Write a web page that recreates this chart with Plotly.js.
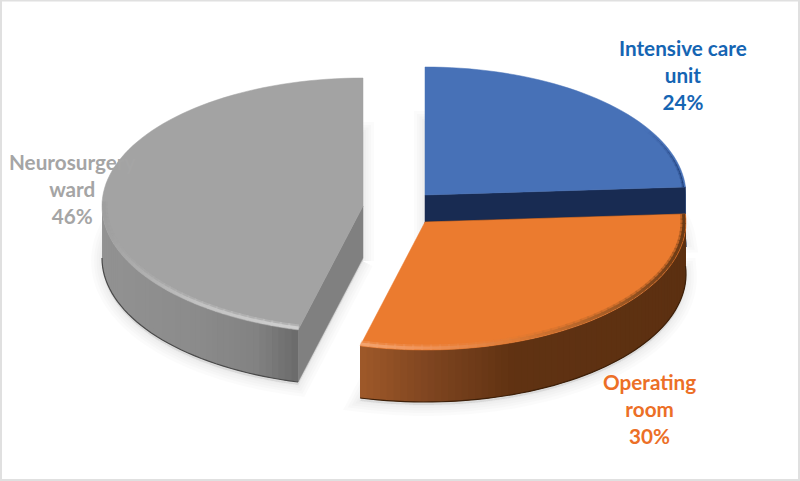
<!DOCTYPE html>
<html>
<head>
<meta charset="utf-8">
<script src="https://cdn.plot.ly/plotly-3.0.1.min.js"></script>
<style>html,body{margin:0;padding:0;background:#fff}</style>
</head>
<body>
<div id="plot" style="width:800px;height:481px"></div>
<script>
// values
var categories = ['Intensive care<br>unit', 'Operating<br>room', 'Neurosurgery<br>ward'];
var shares = [24, 30, 46];

// excel style 3d pie has no plotly trace, so slices are built as filled
// scatter paths on a hidden axis that runs in page pixels
var RX = 261, RY = 128, DEPTH = 52;
var centers = [[425, 195], [425, 222], [363, 206]];
var topColors = ['#4771B7', '#EB7B2F', '#A3A3A3'];
var cutColors = ['#182B52', '#5E3111', '#808080'];
var edgeColors = ['#14284D', '#3E2009', '#4A4A4A'];

// gradient stops along x, 0 = left end of the part, 1 = right end
var wallStops = [
    [[0, '#1C3A6B'], [1, '#1C3A6B']],
    [[0, '#A05A2A'], [0.22, '#7F4520'], [0.48, '#603212'], [1, '#5C3011']],
    [[0, '#929292'], [0.5, '#8B8B8B'], [0.8, '#828282'], [1, '#6C6C6C']]
];
var rimStops = [
    [[0, '#4771B7'], [0.5, '#35589A'], [1, '#1F3F78']],
    [[0, '#F3A570'], [0.2, '#F0945A'], [0.5, '#DD7A34'], [0.8, '#A05A25'], [1, '#6B3A15']],
    [[0, '#9E9E9E'], [0.15, '#ABABAB'], [0.5, '#C2C2C2'], [1, '#CFCFCF']]
];

var traces = [];

function hex(c) {
    return [1, 3, 5].map(function (i) { return parseInt(c.substr(i, 2), 16); });
}
function colorAt(stops, t) {
    for (var i = 1; i < stops.length; i++) {
        if (t <= stops[i][0]) {
            var f = (t - stops[i - 1][0]) / (stops[i][0] - stops[i - 1][0]);
            var a = hex(stops[i - 1][1]), b = hex(stops[i][1]);
            return 'rgb(' + a.map(function (v, k) { return Math.round(v + (b[k] - v) * f); }).join(',') + ')';
        }
    }
    return stops[stops.length - 1][1];
}
// deg is clockwise from 12 o'clock, inset pulls the point in from the rim
function pt(c, deg, dy, inset) {
    var r = deg * Math.PI / 180, s = inset || 0;
    return [c[0] + (RX - s) * Math.sin(r), c[1] - (RY - s) * Math.cos(r) + (dy || 0)];
}
function arc(c, a, b, dy) {
    var out = [], n = Math.max(2, Math.ceil(Math.abs(b - a) / 2));
    for (var i = 0; i <= n; i++) out.push(pt(c, a + (b - a) * i / n, dy));
    return out;
}
function addPath(pts, fill, lineColor, lineWidth) {
    traces.push({
        x: pts.map(function (p) { return p[0]; }),
        y: pts.map(function (p) { return p[1]; }),
        mode: 'lines',
        type: 'scatter',
        fill: fill ? 'toself' : 'none',
        fillcolor: fill || undefined,
        line: {color: lineColor || fill, width: lineWidth === undefined ? 0.5 : lineWidth, simplify: false},
        hoverinfo: 'skip',
        showlegend: false
    });
}

// slice angles from the shares
var angles = [], run = 0;
shares.forEach(function (s) {
    angles.push([run * 3.6, (run + s) * 3.6]);
    run += s;
});

// which cut face shows, which part of the wall shows, where the bevel runs
var cutDeg = [angles[0][1], angles[1][0], angles[2][0]];
var wallRange = [[angles[0][1], 90], [angles[1][0], angles[1][1]], [angles[2][0], 270]];
var rimRange = [[58, angles[0][1]], [angles[1][0], angles[1][1]], [angles[2][0], 272]];

// soft shadow under the slices
[0, 1, 2].forEach(function (i) {
    var c = centers[i], a = angles[i];
    var p = [[c[0], c[1] + DEPTH + 3]].concat(arc(c, a[0], a[1], DEPTH + 3));
    p.push(p[0]);
    [22, 16, 11, 6, 2].forEach(function (w) {
        addPath(p, 'rgba(0,0,0,0.016)', 'rgba(0,0,0,0.016)', w);
    });
});

function drawSlice(i) {
    var c = centers[i], a = angles[i];

    // cut face towards the viewer
    var e = pt(c, cutDeg[i]);
    addPath([c, e, [e[0], e[1] + DEPTH], [c[0], c[1] + DEPTH], c], cutColors[i]);

    // outer wall in small overlapping pieces to get the gradient
    var w0 = wallRange[i][0], w1 = wallRange[i][1];
    var xA = pt(c, w0)[0], xB = pt(c, w1)[0];
    var xMin = Math.min(xA, xB), xMax = Math.max(xA, xB);
    for (var d = w0; d < w1; d += 1.5) {
        var next = Math.min(d + 3, w1);
        var t = (pt(c, d)[0] - xMin) / (xMax - xMin);
        var col = colorAt(wallStops[i], t);
        addPath(arc(c, d, next, 0).concat(arc(c, next, d, DEPTH)), col, col, 0);
    }
    addPath(arc(c, w0, w1, DEPTH), null, edgeColors[i], 1.2);

    // top face
    var top = [c].concat(arc(c, a[0], a[1]));
    top.push(c);
    addPath(top, topColors[i]);

    // bevel along the rim, a wide faint pass and a narrow one
    var r0 = rimRange[i][0], r1 = rimRange[i][1];
    var x0 = pt(c, r0)[0], x1 = pt(c, r1)[0];
    var lo = Math.min(x0, x1), hi = Math.max(x0, x1);
    [[5, 0.35, 3], [3, 1, 2]].forEach(function (pass) {
        for (var r = r0; r < r1; r += 2) {
            var n2 = Math.min(r + 2.5, r1);
            var u = (pt(c, r)[0] - lo) / (hi - lo);
            var trace = {
                x: [pt(c, r, 0, pass[2])[0], pt(c, n2, 0, pass[2])[0]],
                y: [pt(c, r, 0, pass[2])[1], pt(c, n2, 0, pass[2])[1]],
                mode: 'lines', type: 'scatter', opacity: pass[1],
                line: {color: colorAt(rimStops[i], u), width: i === 0 ? pass[0] / 3 : pass[0]},
                hoverinfo: 'skip', showlegend: false
            };
            traces.push(trace);
        }
    });
}

drawSlice(0);
drawSlice(2);
drawSlice(1);

var labelColors = ['#1565B3', '#EC6F27', '#A5A5A5'];
var labelPos = [[683, 75], [649, 409], [72, 189]];
var annotations = categories.map(function (name, i) {
    return {
        x: labelPos[i][0], y: labelPos[i][1], xref: 'x', yref: 'y',
        text: '<b>' + name + '<br>' + shares[i] + '%</b>',
        showarrow: false, align: 'center', xanchor: 'center', yanchor: 'middle',
        font: {family: 'Lato, sans-serif', size: 20.7, color: labelColors[i]}
    };
});

var layout = {
    width: 800,
    height: 481,
    margin: {l: 0, r: 0, t: 0, b: 0},
    paper_bgcolor: '#fff',
    plot_bgcolor: '#fff',
    showlegend: false,
    xaxis: {range: [0, 800], visible: false, fixedrange: true},
    yaxis: {range: [481, 0], visible: false, fixedrange: true},
    annotations: annotations,
    shapes: [{type: 'rect', xref: 'x', yref: 'y', x0: 1, y0: 0.5, x1: 799, y1: 480,
        line: {color: '#E0E0E0', width: 2}, fillcolor: 'rgba(0,0,0,0)'}]
};

Plotly.newPlot('plot', traces, layout, {displayModeBar: false, staticPlot: true});
</script>
</body>
</html>
